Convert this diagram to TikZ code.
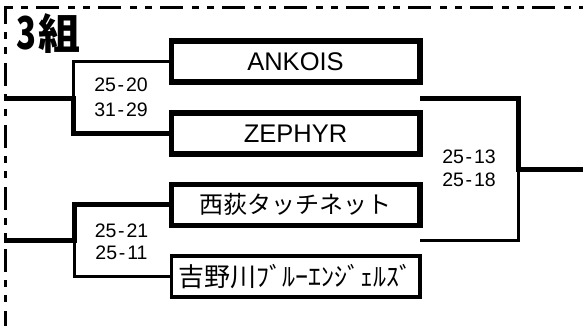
\documentclass[tikz,border=0pt]{standalone}
\usepackage{fontspec}
\setmainfont{Liberation Sans}
\newfontfamily\jp{Noto Sans CJK JP}
\newcommand\scoreline[2]{#1\kern1.8pt-\kern1.8pt#2}
\begin{document}
\begin{tikzpicture}[x=1pt,y=-1pt,
  thickln/.style={line width=5pt, line join=miter},
  thinln/.style={line width=3pt, line join=miter},
  teambox/.style={draw, line width=5.5pt, minimum width=248.5pt, minimum height=41pt, inner sep=0pt},
  thinbox/.style={teambox, line width=3.5pt},
  latinname/.style={font=\fontsize{25.5}{25.5}\selectfont},
  jpname/.style={font=\jp\fontsize{24}{24}\selectfont},
  score/.style={align=center, inner sep=0pt},
  border/.style={line width=3pt}
]
\useasboundingbox[fill=white] (0,0) rectangle (583,326);

% dashed frame
\draw[border, dash pattern=on 7pt off 8pt on 7pt off 8pt on 23pt off 9pt, dash phase=61pt] (5,7.5) -- (584,7.5);
\draw[border, dash pattern=on 23pt off 8pt on 7pt off 8pt on 7pt off 9pt, dash phase=5pt] (5,6) -- (5,327);

% title
\node[anchor=west, inner sep=0pt, font=\jp\bfseries\fontsize{42}{42}\selectfont] (title) at (16,34) {\scalebox{0.78}[1.08]{3}\kern2pt組};

% team boxes
\node[teambox, latinname] (ank) at (295.5,61.5) {ANKOIS};
\node[teambox, latinname] (zep) at (295.5,133.5) {ZEPHYR};
\node[teambox, jpname] (nis) at (295.5,204.75) {西荻タッチネット};
\node[thinbox, font=\jp\fontsize{26}{26}\selectfont] (yos) at (295.5,276.25) {吉野川ﾌﾞﾙｰｴﾝｼﾞｪﾙｽﾞ};

% bracket A
\coordinate (jA) at (73.5,98.3);
\coordinate (lA) at (3.5,98.3);
\draw[thinln] (ank.west) -| (jA);
\draw[thickln] (zep.west) -| (jA) -- (lA);

% bracket B
\coordinate (jB) at (74,240);
\coordinate (lB) at (3.5,240);
\draw[thinln] (yos.west) -| (jB);
\draw[thickln] (nis.west) -| (jB) -- (lB);

% bracket C
\coordinate (cT) at (420,99);
\coordinate (jC) at (518.5,169);
\coordinate (rC) at (584,169);
\coordinate (cB) at (420,240.5);
\draw[thinln] (cB) -| (jC);
\draw[thickln] (cT) -| (jC) -- (rC);

% scores
\node[score, font=\fontsize{19.5}{25}\selectfont] (sA) at (121,97.5) {\scoreline{25}{20}\\\scoreline{31}{29}};
\node[score, font=\fontsize{19.5}{22.5}\selectfont] (sB) at (121.5,241.8) {\scoreline{25}{21}\\\scoreline{25}{11}};
\node[score, font=\fontsize{19.5}{22.5}\selectfont] (sC) at (469,168.5) {\scoreline{25}{13}\\\scoreline{25}{18}};
\end{tikzpicture}
\end{document}
